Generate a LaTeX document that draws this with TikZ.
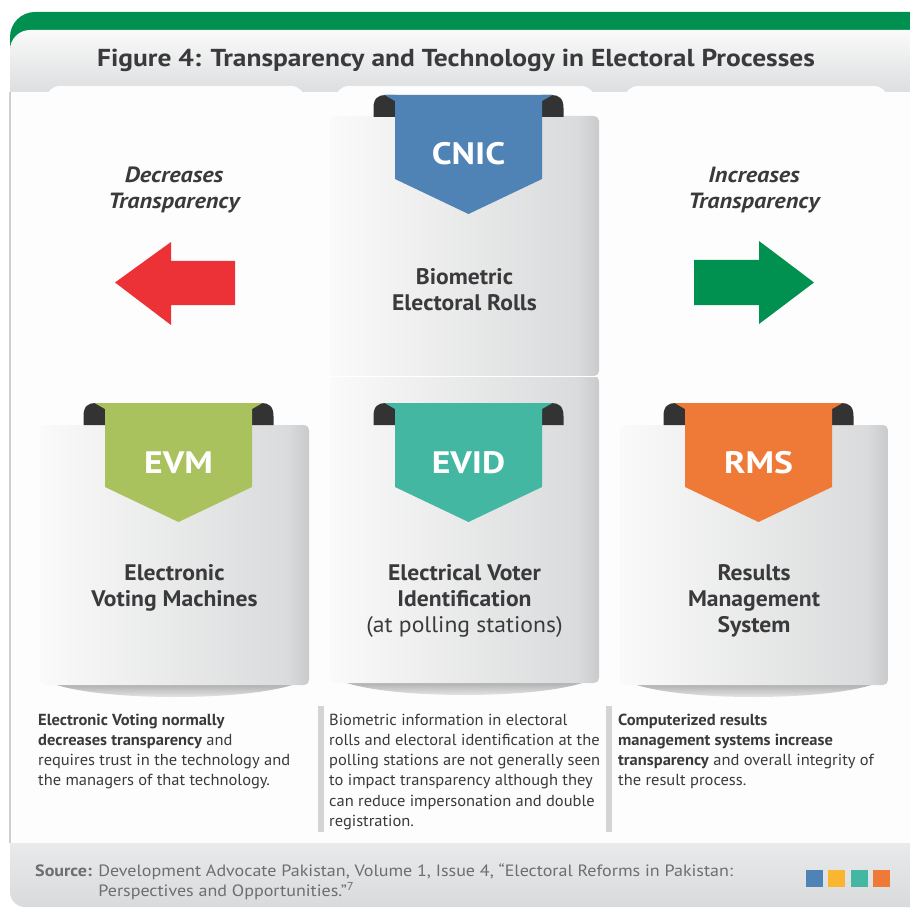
\documentclass[tikz,border=0pt]{standalone}
\usepackage{fontspec}
\setmainfont{PT Sans}
\usepackage{tikz}
\usetikzlibrary{positioning}
\usetikzlibrary{calc}

\definecolor{framegreen}{HTML}{00904F}
\definecolor{hdrtop}{HTML}{FAFAFA}
\definecolor{hdrbot}{HTML}{D4D6D8}
\definecolor{bodywhite}{HTML}{FDFDFD}
\definecolor{cardL}{HTML}{FAFAFA}
\definecolor{cardR}{HTML}{DADBDC}
\definecolor{cardE}{HTML}{C9CACB}
\definecolor{textdark}{HTML}{3A3A3C}
\definecolor{ribblue}{HTML}{5083B5}
\definecolor{ribgreen}{HTML}{A9C25D}
\definecolor{ribteal}{HTML}{44B7A3}
\definecolor{ribor}{HTML}{EF7A37}
\definecolor{curl}{HTML}{333333}
\definecolor{arrred}{HTML}{EC3237}
\definecolor{bargray}{HTML}{D4D4D4}
\definecolor{srcgray}{HTML}{6D6E71}
\definecolor{srctop}{HTML}{E9EAEB}
\definecolor{srcbot}{HTML}{D9DADB}
\definecolor{sqyellow}{HTML}{FBB62F}
\definecolor{frameline}{HTML}{CFCFCF}

\pgfdeclarehorizontalshading{cardshade}{100bp}{color(0bp)=(cardL); color(25bp)=(cardL); color(71bp)=(cardR); color(75bp)=(cardE); color(100bp)=(cardE)}

\newcommand{\txtlines}[2][c]{\begin{tabular}[t]{@{}#1@{}}#2\end{tabular}}

\tikzset{card/.style={shade,shading=cardshade,rounded corners=5pt,minimum width=269pt,inner sep=0pt},
  cardtext/.style={font=\fontsize{22.5}{26}\selectfont\bfseries\addfontfeatures{FakeStretch=1.05},text=textdark,anchor=base},
  tabtext/.style={font=\fontsize{31}{32}\selectfont\bfseries\addfontfeatures{FakeStretch=1.15},text=white,anchor=base},
  sidetext/.style={font=\fontsize{22}{26}\selectfont\bfseries\itshape\addfontfeatures{FakeStretch=1.1},text=textdark,anchor=base},
  notetext/.style={font=\fontsize{16}{20.3}\selectfont\addfontfeatures{FakeStretch=1.03},text=textdark,anchor=base west,inner sep=0pt},
  sqbox/.style={minimum size=17pt,inner sep=0pt},
  cardshadow/.style={top color=black!40,bottom color=bodywhite},}

\begin{document}
\begin{tikzpicture}[x=1pt,y=-1pt,node distance=5pt]
    \useasboundingbox (0,0) rectangle (910,909);
    \fill[white] (0,0) rectangle (910,909);

    % frame, header and body
    \fill[framegreen,rounded corners=25pt] (10,12) rectangle (940,80);
    \shade[top color=hdrtop,bottom color=hdrbot,rounded corners=20pt] (10,30) rectangle (940,110);
    \fill[bodywhite] (10,92) rectangle (940,843);
    \fill[bodywhite,rounded corners=14pt] (46,86) rectangle (305,130);
    \fill[bodywhite,rounded corners=14pt] (335,86) rectangle (595,130);
    \fill[bodywhite,rounded corners=14pt] (624,86) rectangle (888,130);
    \draw[frameline,line width=1.5pt] (10,92) -- (10,843);
    \shade[top color=srctop,bottom color=srcbot] (10,843) -- (940,843) -- (940,907) -- (25,907)
        arc[start angle=90,end angle=180,radius=15] -- cycle;

    \node[font=\fontsize{24.5}{28}\selectfont\bfseries\addfontfeatures{FakeStretch=1.12},text=textdark,anchor=base] (title) at (456,67)
        {Figure 4: Transparency and Technology in Electoral Processes};

    % cards
    \foreach \a/\b/\c in {40/309/685, 330/599/683, 620/888/685}
        \shade[cardshadow] (\a+3,\c-6) -- (\b-3,\c-6) .. controls (\b-40,\c+18) and (\a+40,\c+18) .. (\a+3,\c-6) -- cycle;
    \node[card,minimum height=260pt] (cniccard) at (464.5,246) {};
    \node[card,minimum height=307pt] (evidcard) at (464.5,529.5) {};
    \node[card,minimum height=260pt] (evmcard) at (174.5,555) {};
    \node[card,minimum width=268pt,minimum height=260pt] (rmscard) at (754,555) {};
    \draw[white,line width=1.2pt] (cniccard.south west) -- (cniccard.south east);

    % ribbons
    \foreach \cx/\yt/\col/\lbl/\nm in {178.5/403/ribgreen/EVM/evm, 468.5/95/ribblue/CNIC/cnic,
        468.5/403/ribteal/EVID/evid, 758.5/403/ribor/RMS/rms} {
        \fill[curl] (\cx-95,\yt+22) -- (\cx-95,\yt+13) .. controls (\cx-95,\yt+3) and (\cx-90,\yt) .. (\cx-83,\yt)
            -- (\cx-73,\yt) -- (\cx-73,\yt+22) -- cycle;
        \fill[curl] (\cx+95,\yt+22) -- (\cx+95,\yt+13) .. controls (\cx+95,\yt+3) and (\cx+90,\yt) .. (\cx+83,\yt)
            -- (\cx+73,\yt) -- (\cx+73,\yt+22) -- cycle;
        \fill[\col] (\cx-84,\yt) -- (\cx+84,\yt) -- (\cx+73.5,\yt+6) -- (\cx+73.5,\yt+84) -- (\cx,\yt+119)
            -- (\cx-73.5,\yt+84) -- (\cx-73.5,\yt+6) -- cycle;
        \node[tabtext] (\nm-tab) at (\cx,\yt+70) {\lbl};
    }

    \node[cardtext] (cniclabel) at (464.5,284) {\txtlines{Biometric\\Electoral Rolls}};
    \node[cardtext] (evmlabel) at (174.5,580) {\txtlines{Electronic\\Voting Machines}};
    \node[cardtext] (evidlabel) at (464.5,580) {\txtlines{Electrical Voter\\Identification\\\mdseries(at polling stations)}};
    \node[cardtext] (rmslabel) at (754,580) {\txtlines{Results\\Management\\System}};

    % arrows
    \node[sidetext] (dectext) at (174,183) {\txtlines{Decreases\\Transparency}};
    \node[sidetext] (inctext) at (754,183) {\txtlines{Increases\\Transparency}};
    \fill[arrred] (235,261) -- (171,261) -- (171,242) -- (115,282.5) -- (171,325) -- (171,305) -- (235,305) -- cycle;
    \fill[framegreen] (694,260) -- (759,260) -- (759,241) -- (814,282.5) -- (759,324) -- (759,305) -- (694,305) -- cycle;

    % notes
    \fill[bargray] (318,706) rectangle (324,832);
    \fill[bargray] (606,706) rectangle (612,832);
    \node[notetext] (evmnote) at (38,725) {\txtlines[l]{\textbf{Electronic Voting normally}\\
        \textbf{decreases transparency} and\\requires trust in the technology and\\the managers of that technology.}};
    \node[notetext] (cnicnote) at (329,725) {\txtlines[l]{Biometric information in electoral\\
        rolls and electoral identification at the\\polling stations are not generally seen\\
        to impact transparency although they\\can reduce impersonation and double\\registration.}};
    \node[notetext] (rmsnote) at (618,725) {\txtlines[l]{\textbf{Computerized results}\\
        \textbf{management systems increase}\\\textbf{transparency} and overall integrity of\\the result process.}};

    % source
    \node[notetext,font=\fontsize{16.4}{20.5}\selectfont\addfontfeatures{FakeStretch=1.1},text=srcgray] (source) at (35,876)
        {\txtlines[l@{ }l]{\textbf{Source:} & Development Advocate Pakistan, Volume 1, Issue 4, “Electoral Reforms in Pakistan:\\
        & Perspectives and Opportunities.”\textsuperscript{7}}};
    \node[sqbox,fill=ribblue] (sq1) at (814.5,878.5) {};
    \node[sqbox,fill=sqyellow] (sq2) [right = of sq1] {};
    \node[sqbox,fill=ribteal] (sq3) [right = of sq2] {};
    \node[sqbox,fill=ribor] (sq4) [right = of sq3] {};
\end{tikzpicture}
\end{document}
